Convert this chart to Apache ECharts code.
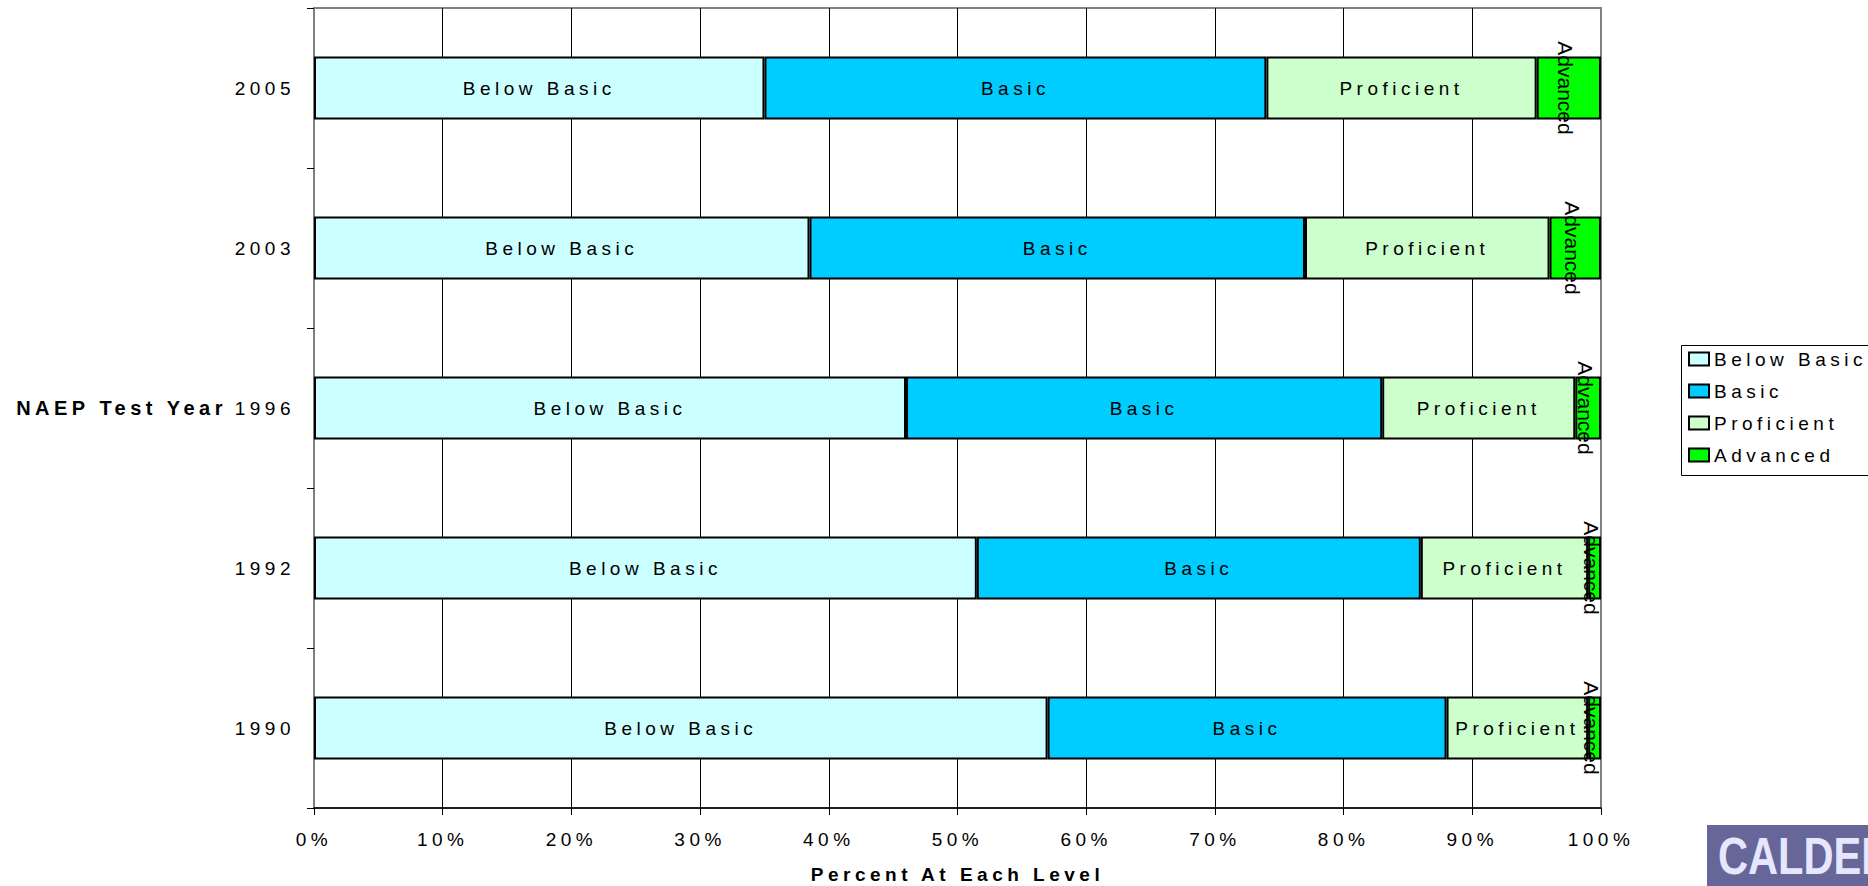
<!DOCTYPE html>
<html>
<head>
<meta charset="utf-8">
<script src="https://cdn.jsdelivr.net/npm/echarts@6/dist/echarts.min.js"></script>
<style>
    html, body { margin: 0; padding: 0; background: #fff; }
    #chart { width: 1868px; height: 886px; }
    /* the original uses wide letter spacing on almost every text */
    #chart text { letter-spacing: 4.5px; }
    #chart text[style*="Arimo"] { letter-spacing: 0; }
</style>
</head>
<body>
<div id="chart"></div>
<script>
// NAEP test years, bottom to top
const years = ['1990', '1992', '1996', '2003', '2005']
// percent at each level
const belowBasic = [57, 51.5, 46, 38.5, 35]
const basic = [31, 34.5, 37, 38.5, 39]
const proficient = [11, 13, 15, 19, 21]
const advanced = [1, 1, 2, 4, 5]
const levelNames = ['Below Basic', 'Basic', 'Proficient', 'Advanced']
const percentTicks = [0, 10, 20, 30, 40, 50, 60, 70, 80, 90, 100]

const FONT = 'Liberation Sans'
const colors = ['#CCFFFF', '#00CCFF', '#CCFFCC', '#00FF00']

function makeSeries(name, values, color, rotated) {
    return {
        name: name,
        type: 'bar',
        stack: 'total',
        barWidth: 63,
        data: values,
        itemStyle: {
            color: color,
            borderColor: '#000',
            borderWidth: 2
        },
        label: rotated ? {
            show: true,
            position: 'inside',
            rotate: -90,
            offset: [0, 3],
            formatter: '{a}',
            color: '#000',
            fontFamily: 'Arimo, Liberation Sans, sans-serif',
            fontSize: 21
        } : {
            show: true,
            position: 'inside',
            formatter: '{a}',
            color: '#000',
            fontFamily: FONT,
            fontSize: 19
        }
    }
}

const chart = echarts.init(document.getElementById('chart'), null, { renderer: 'svg' })
chart.setOption({
    animation: false,
    backgroundColor: '#fff',
    grid: {
        left: 314,
        right: 267,
        top: 8,
        bottom: 78,
        containLabel: false,
        outerBoundsMode: 'none',
        show: true,
        borderColor: '#808080',
        borderWidth: 2
    },
    legend: {
        orient: 'vertical',
        left: 1679,
        top: 343,
        data: levelNames,
        icon: 'rect',
        itemWidth: 20,
        itemHeight: 13,
        itemGap: 12,
        padding: [6, 10, 6, 9],
        borderWidth: 0,
        textStyle: {
            fontFamily: FONT,
            fontSize: 19,
            lineHeight: 20,
            color: '#000'
        }
    },
    xAxis: {
        type: 'value',
        min: percentTicks[0],
        max: percentTicks[percentTicks.length - 1],
        interval: 10,
        name: 'Percent At Each Level',
        nameLocation: 'middle',
        nameGap: 57,
        nameTextStyle: {
            fontFamily: FONT,
            fontSize: 19,
            fontWeight: 'bold',
            color: '#000'
        },
        axisLine: { show: true, lineStyle: { color: '#000', width: 1.5 } },
        axisTick: { show: true, length: 7, lineStyle: { color: '#000', width: 1 } },
        axisLabel: {
            formatter: '{value}%',
            margin: 22,
            fontFamily: FONT,
            fontSize: 19,
            color: '#000'
        },
        splitLine: {
            show: true,
            lineStyle: {
                color: ['#808080', '#000', '#000', '#000', '#000', '#000', '#000', '#000', '#000', '#000', '#808080'],
                width: 1
            }
        }
    },
    yAxis: {
        type: 'category',
        data: years,
        name: 'NAEP Test Year',
        nameLocation: 'middle',
        nameRotate: 0,
        nameGap: 87,
        nameTextStyle: {
            fontFamily: FONT,
            fontSize: 20,
            fontWeight: 'bold',
            color: '#000'
        },
        axisLine: { show: true, lineStyle: { color: '#808080', width: 2 } },
        axisTick: { show: true, length: 7, lineStyle: { color: '#000', width: 1 } },
        axisLabel: {
            margin: 19,
            fontFamily: FONT,
            fontSize: 19,
            color: '#000'
        },
        splitLine: { show: false }
    },
    graphic: [
        {
            // legend frame, runs past the right edge like the original
            type: 'rect',
            left: 1679,
            top: 343,
            shape: { width: 230, height: 130 },
            style: { fill: 'none', stroke: '#000', lineWidth: 1 },
            z: 10
        },
        {
            type: 'group',
            left: 1707,
            top: 825,
            children: [
                {
                    type: 'rect',
                    shape: { x: 0, y: 0, width: 200, height: 70 },
                    style: { fill: '#666699' }
                },
                {
                    type: 'text',
                    x: 11,
                    y: 31,
                    scaleX: 0.8,
                    style: {
                        text: 'CALDER',
                        fill: '#E6E6FF',
                        font: 'bold 52px Arimo, "Liberation Sans", sans-serif',
                        verticalAlign: 'middle'
                    }
                }
            ]
        }
    ],
    series: [
        makeSeries(levelNames[0], belowBasic, colors[0], false),
        makeSeries(levelNames[1], basic, colors[1], false),
        makeSeries(levelNames[2], proficient, colors[2], false),
        makeSeries(levelNames[3], advanced, colors[3], true)
    ]
})
</script>
</body>
</html>
